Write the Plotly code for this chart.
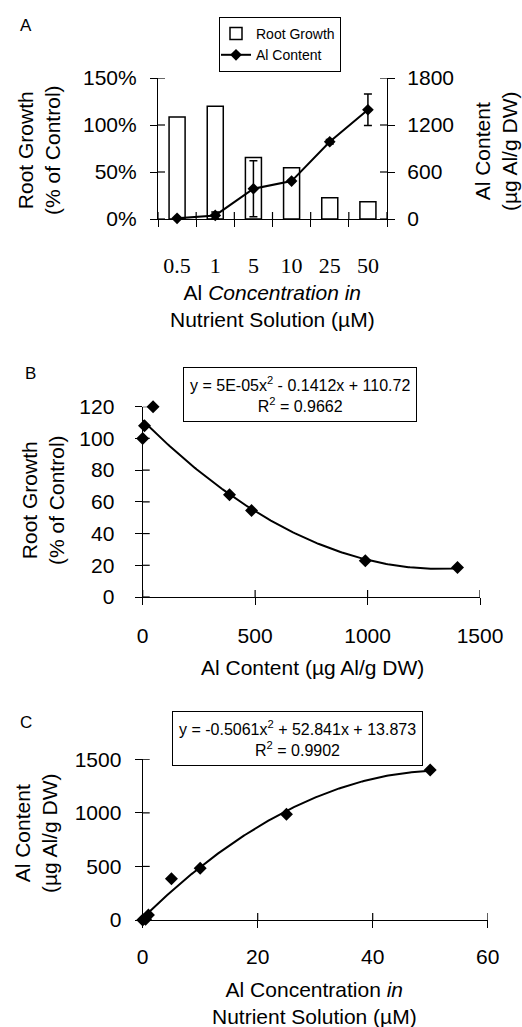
import numpy as np
import plotly.graph_objects as go

# ---------------- data ----------------
conc_labels = ["0.5", "1", "5", "10", "25", "50"]
conc_values = [0.5, 1, 5, 10, 25, 50]
root_growth_pct = [108.5, 120, 65.4, 54.5, 22.6, 18.4]      # % of control
al_content = [8, 46, 386, 484, 986, 1395]                    # ug Al/g DW
al_content_err = [0, 42, 358, 10, 30, 200]

# panel B: root growth vs Al content (control included)
b_al = [0, 8, 46, 386, 484, 990, 1400]
b_rg = [100, 108, 120, 64.5, 54.5, 22.8, 18.6]

# panel C: Al content vs concentration (control included)
c_conc = [0, 0.5, 1, 5, 10, 25, 50]
c_al = [0, 8, 46, 385, 484, 986, 1400]

# tick values
ticks_a_left = [0, 0.5, 1, 1.5]
ticks_a_right = [0, 600, 1200, 1800]
ticks_b_x = [0, 500, 1000, 1500]
ticks_b_y = [0, 20, 40, 60, 80, 100, 120]
ticks_c_x = [0, 20, 40, 60]
ticks_c_y = [0, 500, 1000, 1500]

eq_b = "y = 5E-05x<sup>2</sup> - 0.1412x + 110.72<br>R<sup>2</sup> = 0.9662"
eq_c = "y = -0.5061x<sup>2</sup> + 52.841x + 13.873<br>R<sup>2</sup> = 0.9902"

# ---------------- layout helpers ----------------
W, H = 522, 1027
def px(x):
    return x / W
def py(y):
    return 1 - y / H

ARIAL = "Liberation Sans, Arial, sans-serif"
SERIF = "Liberation Serif, Times New Roman, serif"

fig = go.Figure()

# ---- Panel A ----
fig.add_trace(go.Bar(
    x=conc_labels, y=[v / 100 for v in root_growth_pct], name="Root Growth",
    marker=dict(color="white", line=dict(color="black", width=1.5)),
    width=0.42, xaxis="x", yaxis="y"))
fig.add_trace(go.Scatter(
    x=conc_labels, y=al_content, name="Al Content", mode="lines+markers",
    line=dict(color="black", width=2), cliponaxis=False,
    marker=dict(symbol="diamond", size=9, color="black"),
    error_y=dict(type="data", array=al_content_err, color="black", thickness=1.5, width=4),
    xaxis="x", yaxis="y2"))

# ---- Panel B ----
cb = np.polyfit(b_al, b_rg, 2)
xb = np.linspace(0, max(b_al), 200)
fig.add_trace(go.Scatter(x=xb, y=np.polyval(cb, xb), mode="lines",
                         line=dict(color="black", width=2), showlegend=False,
                         xaxis="x2", yaxis="y3", hoverinfo="skip"))
fig.add_trace(go.Scatter(x=b_al, y=b_rg, mode="markers", showlegend=False,
                         marker=dict(symbol="diamond", size=10, color="black"),
                         cliponaxis=False, xaxis="x2", yaxis="y3"))

# ---- Panel C ----
cc = np.polyfit(c_conc, c_al, 2)
xc = np.linspace(0, max(c_conc), 200)
fig.add_trace(go.Scatter(x=xc, y=np.polyval(cc, xc), mode="lines",
                         line=dict(color="black", width=2), showlegend=False,
                         xaxis="x3", yaxis="y4", hoverinfo="skip"))
fig.add_trace(go.Scatter(x=c_conc, y=c_al, mode="markers", showlegend=False,
                         marker=dict(symbol="diamond", size=10, color="black"),
                         cliponaxis=False, xaxis="x3", yaxis="y4"))

dA = [px(158), px(387)]
yA = [py(219), py(78)]
dB = [px(142.7), px(480)]
yB = [py(597), py(406.7)]
dC = [px(142.7), px(487.7)]
yC = [py(920), py(759.3)]

axcommon = dict(showgrid=False, zeroline=False, showline=True, linecolor="black",
                linewidth=1.2, tickcolor="black", tickwidth=1.2, ticklen=7,
                ticks="outside", automargin=False)

tickA = dict(family=ARIAL, size=21, color="black")
tickS = dict(family=SERIF, size=22, color="black")
tickB = dict(family=ARIAL, size=21, color="black")

# inner half of the "cross" tick marks
shapes = []
LN = dict(color="black", width=1.2)
def ytick_in(xref, yref, vals, right=False):
    for v in vals:
        shapes.append(dict(type="line", xref=xref, yref=yref, xsizemode="pixel",
                           xanchor=1 if right else 0, x0=0, x1=-7 if right else 7,
                           y0=v, y1=v, line=LN))
def xtick_in(xref, yref, vals):
    for v in vals:
        shapes.append(dict(type="line", xref=xref, yref=yref, ysizemode="pixel",
                           yanchor=0, y0=0, y1=7, x0=v, x1=v, line=LN))

ytick_in("x domain", "y", ticks_a_left)
ytick_in("x domain", "y2", ticks_a_right, right=True)
xtick_in("x", "y domain", [i - 0.5 for i in range(len(conc_labels) + 1)])
ytick_in("x2 domain", "y3", ticks_b_y)
xtick_in("x2", "y3 domain", ticks_b_x)
ytick_in("x3 domain", "y4", ticks_c_y)
xtick_in("x3", "y4 domain", ticks_c_x)

fig.update_layout(
    width=W, height=H, margin=dict(l=0, r=0, t=0, b=0, autoexpand=False),
    paper_bgcolor="white", plot_bgcolor="white",
    font=dict(family=ARIAL, color="black"),
    showlegend=True,
    legend=dict(x=px(219), y=py(17), xanchor="left", yanchor="top",
                bordercolor="black", borderwidth=1, bgcolor="white",
                font=dict(family=ARIAL, size=14, color="black"),
                tracegroupgap=0, itemwidth=30, indentation=-4),
    # panel A
    xaxis=dict(domain=dA, anchor="y", type="category", range=[-0.5, 5.5],
               tickson="boundaries", tickfont=tickS, ticklabelstandoff=26, **axcommon),
    yaxis=dict(domain=yA, anchor="x", range=[0, 1.5], tickvals=ticks_a_left,
               tickformat=".0%", tickfont=tickA, ticklabelstandoff=9, **axcommon),
    yaxis2=dict(domain=yA, anchor="x", overlaying="y", side="right", range=[0, 1800],
                tickvals=ticks_a_right, tickfont=tickA, ticklabelstandoff=8, **axcommon),
    # panel B
    xaxis2=dict(domain=dB, anchor="y3", range=[0, 1500], tickvals=ticks_b_x,
                tickfont=tickB, ticklabelstandoff=13, **axcommon),
    yaxis3=dict(domain=yB, anchor="x2", range=[0, 120], tickvals=ticks_b_y,
                tickfont=tickB, ticklabelstandoff=16, **axcommon),
    # panel C
    xaxis3=dict(domain=dC, anchor="y4", range=[0, 60], tickvals=ticks_c_x,
                tickfont=tickB, ticklabelstandoff=11, **axcommon),
    yaxis4=dict(domain=yC, anchor="x3", range=[0, 1500], tickvals=ticks_c_y,
                tickfont=tickB, ticklabelstandoff=9, **axcommon),
    shapes=shapes,
)

TF = dict(family=ARIAL, size=21, color="black")
ann = []
def A(text, x, y, angle=0, font=TF, **kw):
    ann.append(dict(text=text, x=px(x), y=py(y), xref="paper", yref="paper",
                    showarrow=False, textangle=angle, font=font,
                    xanchor="center", yanchor="middle", **kw))

LF = dict(family=ARIAL, size=17, color="black")
# panel letters
A("A", 26, 25, font=LF)
A("B", 30, 373, font=LF)
A("C", 26, 722, font=LF)

# panel A titles
A("Root Growth<br>(% of Control)", 39, 150, angle=-90)
A("Al Content<br>(µg Al/g DW)", 496, 152, angle=-90)
A("Al <i>Concentration in</i><br>Nutrient Solution (µM)", 272, 306)
# panel B titles
A("Root Growth<br>(% of Control)", 43, 500, angle=-90)
A("Al Content (µg Al/g DW)", 312, 667)
# panel C titles
A("Al Content<br>(µg Al/g DW)", 36, 834, angle=-90)
A("Al Concentration <i>in</i><br>Nutrient Solution (µM)", 314, 1003)

# equation boxes
EQF = dict(family=ARIAL, size=16, color="black")
A(eq_b, 300, 394, font=EQF, bordercolor="black", borderwidth=1, bgcolor="white",
  borderpad=6)
A(eq_c, 297, 738, font=EQF, bordercolor="black", borderwidth=1, bgcolor="white",
  borderpad=6)

fig.update_layout(annotations=ann)
fig.write_html("out.html",
               config={"displayModeBar": False},
               post_script="document.body.style.margin='0px';"
                           "document.body.style.overflow='hidden';")
